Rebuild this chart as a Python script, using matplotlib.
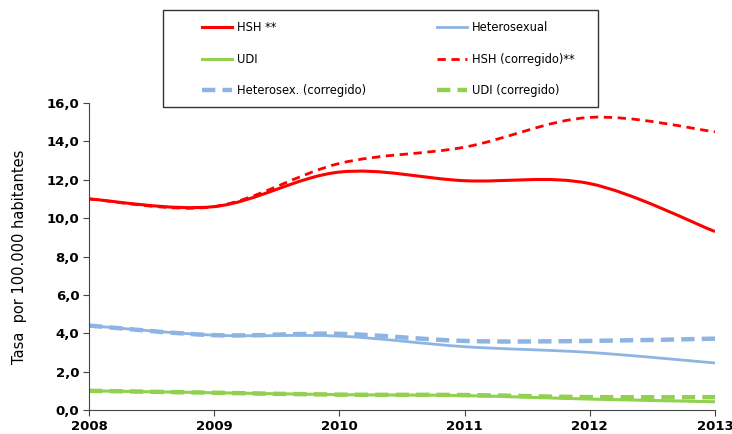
import matplotlib.pyplot as plt
from matplotlib.path import Path
from matplotlib.patches import PathPatch, Rectangle
from matplotlib.lines import Line2D
from matplotlib.ticker import FuncFormatter
import numpy as np

years = [2008, 2009, 2010, 2011, 2012, 2013]

hsh = [11.0, 10.6, 12.4, 11.95, 11.8, 9.3]
hetero = [4.4, 3.9, 3.85, 3.3, 3.0, 2.45]
udi = [1.0, 0.9, 0.8, 0.75, 0.57, 0.43]
hsh_corr = [11.0, 10.6, 12.85, 13.7, 15.25, 14.5]
hetero_corr = [4.4, 3.9, 3.97, 3.6, 3.6, 3.72]
udi_corr = [1.0, 0.9, 0.8, 0.78, 0.67, 0.67]

RED = "#FF0000"
BLUE = "#8DB4E2"
GREEN = "#92D050"


def smooth_path(x, y):
    # bezier segments like excel's smoothed lines
    x = np.asarray(x, float)
    y = np.asarray(y, float)
    n = len(x)
    verts = [(x[0], y[0])]
    codes = [Path.MOVETO]
    for i in range(n - 1):
        i0 = max(i - 1, 0)
        i3 = min(i + 2, n - 1)
        c1 = (x[i] + (x[i + 1] - x[i0]) / 6, y[i] + (y[i + 1] - y[i0]) / 6)
        c2 = (x[i + 1] - (x[i3] - x[i]) / 6, y[i + 1] - (y[i3] - y[i]) / 6)
        verts += [c1, c2, (x[i + 1], y[i + 1])]
        codes += [Path.CURVE4] * 3
    return Path(verts, codes)


W, H = 732, 434
fig = plt.figure(figsize=(W / 100, H / 100), dpi=100)
ax = fig.add_axes([89 / W, 1 - 410 / H, (715 - 89) / W, (410 - 103) / H])

dash_thick = (0, (3, 1.6))
dash_thin = (0, (3, 2))
series = [
    (hetero_corr, BLUE, 3.2, dash_thick),
    (udi_corr, GREEN, 3.2, dash_thick),
    (hetero, BLUE, 2.0, "-"),
    (udi, GREEN, 2.2, "-"),
    (hsh_corr, RED, 2.0, dash_thin),
    (hsh, RED, 2.2, "-"),
]
for vals, col, lw, ls in series:
    ax.add_patch(PathPatch(smooth_path(years, vals), fill=False, edgecolor=col,
                           linewidth=lw, linestyle=ls, capstyle="butt"))

ax.set_xlim(2008, 2013)
ax.set_ylim(0, 16)
ax.set_xticks(years)
ax.set_yticks(np.arange(0, 17, 2))
ax.yaxis.set_major_formatter(FuncFormatter(lambda v, p: f"{v:.1f}".replace(".", ",")))
ax.spines["top"].set_visible(False)
ax.spines["right"].set_visible(False)
ax.spines["left"].set_color("#444444")
ax.spines["bottom"].set_color("#444444")
ax.tick_params(direction="out", length=4, color="#444444", labelsize=9.5, pad=3)
for lab in ax.get_xticklabels() + ax.get_yticklabels():
    lab.set_fontweight("bold")
ax.set_ylabel("Tasa  por 100.000 habitantes", fontsize=10.5, labelpad=14)

# legend frame drawn by hand, two columns placed separately
fig.patches.append(Rectangle((163 / W, 1 - 107 / H), 435 / W, 97 / H,
                             transform=fig.transFigure, fill=False,
                             edgecolor="#333333", linewidth=1.0))

col1 = ([Line2D([], [], color=RED, lw=2.2),
         Line2D([], [], color=GREEN, lw=2.2),
         Line2D([], [], color=BLUE, lw=3.2, ls=dash_thick)],
        ["HSH **", "UDI", "Heterosex. (corregido)"], 202)
col2 = ([Line2D([], [], color=BLUE, lw=2.0),
         Line2D([], [], color=RED, lw=2.0, ls=dash_thin),
         Line2D([], [], color=GREEN, lw=3.2, ls=dash_thick)],
        ["Heterosexual", "HSH (corregido)**", "UDI (corregido)"], 437)
for hs, ls_, x0 in (col1, col2):
    fig.legend(hs, ls_, loc="upper left", bbox_to_anchor=(x0 / W, 1 - 21 / H),
               fontsize=8.3, frameon=False, handlelength=2.6, handletextpad=0.45,
               labelspacing=1.62, borderpad=0, borderaxespad=0)

fig.savefig("out.png", dpi=100)
